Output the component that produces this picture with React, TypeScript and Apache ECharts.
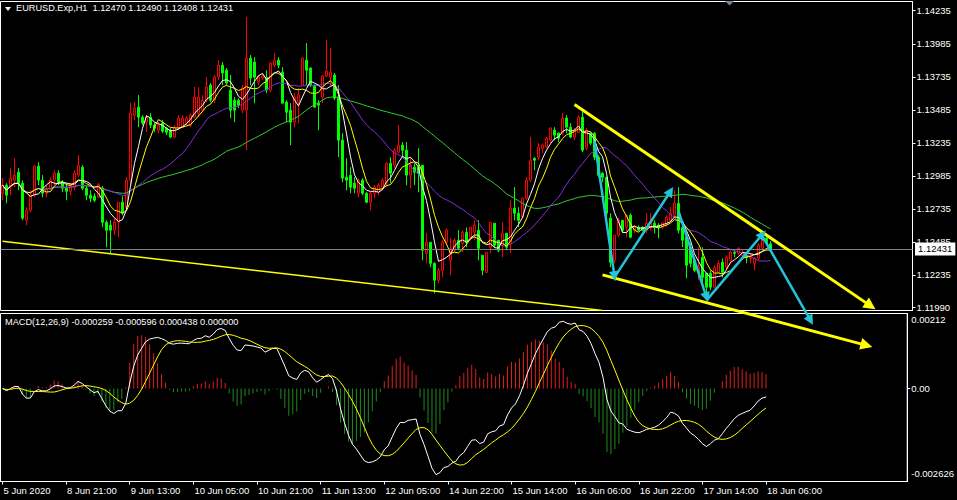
import React, { useEffect, useRef } from "react";
import * as echarts from "echarts";

const symbolTitle = "EURUSD.Exp,H1  1.12470 1.12490 1.12408 1.12431";
const macdTitle = "MACD(12,26,9) -0.000259 -0.000596 0.000438 0.000000";

const opens = [
  1.12853,1.12914,1.12899,1.12952,1.13012,1.12929,1.12648,1.12724,1.12838,1.13058,
  1.12952,1.12853,1.12883,1.12952,1.13005,1.12936,1.12891,1.12868,1.12899,1.12990,
  1.13050,1.12891,1.12838,1.12830,1.12823,1.12891,1.12633,1.12611,1.12573,1.12633,
  1.12785,1.12747,1.12952,1.13444,1.13505,1.13429,1.13391,1.13429,1.13369,1.13331,
  1.13384,1.13346,1.13331,1.13278,1.13346,1.13353,1.13384,1.13369,1.13429,1.13459,
  1.13482,1.13558,1.13672,1.13558,1.13732,1.13823,1.13785,1.13634,1.13558,1.13558,
  1.13482,1.13482,1.13876,1.13846,1.13694,1.13725,1.13732,1.13634,1.13823,1.13861,
  1.13770,1.13543,1.13482,1.13391,1.13543,1.13672,1.13861,1.13801,1.13672,1.13535,
  1.13581,1.13740,1.13732,1.13748,1.13581,1.13255,1.12974,1.12990,1.12929,1.12853,
  1.12952,1.12853,1.12785,1.12853,1.12861,1.12899,1.12929,1.13080,1.13065,1.13164,
  1.13217,1.13179,1.12990,1.13050,1.13050,1.13065,1.12398,1.12482,1.12322,1.12194,
  1.12269,1.12482,1.12345,1.12421,1.12497,1.12474,1.12557,1.12520,1.12557,1.12573,
  1.12383,1.12254,1.12444,1.12626,1.12497,1.12459,1.12550,1.12474,1.12739,1.12701,
  1.12671,1.12815,1.12952,1.13118,1.13126,1.13194,1.13202,1.13255,1.13331,1.13308,
  1.13308,1.13422,1.13353,1.13278,1.13315,1.13429,1.13194,1.13308,1.13308,1.13126,
  1.13005,1.12974,1.12664,1.12345,1.12535,1.12648,1.12595,1.12686,1.12573,1.12595,
  1.12595,1.12573,1.12595,1.12626,1.12611,1.12595,1.12626,1.12648,1.12686,1.12777,
  1.12595,1.12520,1.12444,1.12345,1.12247,1.12368,1.12247,1.12247,1.12141,1.12254,
  1.12330,1.12292,1.12345,1.12406,1.12398,1.12383,1.12383,1.12360,1.12322,1.12360,
  1.12436,1.12512,1.12470,
];

const highs = [
  1.12967,1.12929,1.13043,1.13118,1.13043,1.12952,1.12747,1.12876,1.13065,1.13088,
  1.12990,1.12914,1.12974,1.13027,1.13027,1.12952,1.12929,1.12936,1.13027,1.13141,
  1.13065,1.12914,1.12876,1.12853,1.12929,1.12906,1.12648,1.12648,1.12664,1.12785,
  1.12830,1.12974,1.13535,1.13543,1.13596,1.13444,1.13444,1.13459,1.13391,1.13391,
  1.13406,1.13353,1.13346,1.13369,1.13444,1.13444,1.13437,1.13459,1.13657,1.13657,
  1.13596,1.13732,1.13687,1.13748,1.13861,1.13846,1.13801,1.13748,1.13581,1.13573,
  1.13672,1.14187,1.13899,1.13884,1.13748,1.13755,1.13785,1.13846,1.13914,1.13884,
  1.13808,1.13558,1.13535,1.13611,1.13649,1.13884,1.13990,1.13808,1.13672,1.13558,
  1.13748,1.14013,1.13952,1.13763,1.13672,1.13308,1.13118,1.13050,1.12974,1.12967,
  1.12967,1.12861,1.12861,1.12914,1.12929,1.12967,1.13088,1.13126,1.13194,1.13369,
  1.13240,1.13240,1.13126,1.13080,1.13194,1.13065,1.12550,1.12482,1.12330,1.12285,
  1.12497,1.12588,1.12512,1.12512,1.12573,1.12573,1.12595,1.12595,1.12648,1.12648,
  1.12383,1.12406,1.12633,1.12626,1.12497,1.12633,1.12550,1.12800,1.12899,1.12747,
  1.12823,1.12974,1.13278,1.13126,1.13232,1.13232,1.13278,1.13353,1.13353,1.13315,
  1.13459,1.13444,1.13384,1.13346,1.13444,1.13497,1.13346,1.13315,1.13315,1.13141,
  1.13012,1.12974,1.12701,1.12535,1.12664,1.12648,1.12686,1.12701,1.12611,1.12611,
  1.12603,1.12701,1.12701,1.12648,1.12626,1.12633,1.12686,1.12747,1.12876,1.12899,
  1.12626,1.12535,1.12474,1.12368,1.12444,1.12444,1.12247,1.12269,1.12307,1.12345,
  1.12360,1.12383,1.12421,1.12421,1.12444,1.12421,1.12398,1.12398,1.12368,1.12474,
  1.12535,1.12535,1.12490,
];

const lows = [
  1.12800,1.12777,1.12838,1.12899,1.12876,1.12648,1.12611,1.12709,1.12823,1.12914,
  1.12823,1.12823,1.12876,1.12914,1.12914,1.12861,1.12800,1.12838,1.12876,1.12974,
  1.12876,1.12800,1.12785,1.12785,1.12815,1.12595,1.12444,1.12398,1.12535,1.12520,
  1.12686,1.12724,1.12914,1.13406,1.13353,1.13369,1.13315,1.13346,1.13315,1.13308,
  1.13308,1.13293,1.13270,1.13270,1.13331,1.13346,1.13369,1.13353,1.13422,1.13429,
  1.13467,1.13543,1.13543,1.13535,1.13710,1.13672,1.13672,1.13422,1.13391,1.13497,
  1.13459,1.13179,1.13672,1.13535,1.13672,1.13710,1.13611,1.13619,1.13808,1.13801,
  1.13535,1.13391,1.13217,1.13353,1.13384,1.13672,1.13672,1.13657,1.13505,1.13331,
  1.13535,1.13732,1.13657,1.13558,1.13126,1.12936,1.12876,1.12853,1.12853,1.12823,
  1.12838,1.12777,1.12724,1.12815,1.12838,1.12876,1.12899,1.12929,1.13043,1.13156,
  1.13126,1.12914,1.12891,1.12914,1.12861,1.12345,1.12322,1.12292,1.12095,1.12171,
  1.12216,1.12474,1.12232,1.12406,1.12421,1.12406,1.12444,1.12497,1.12497,1.12345,
  1.12232,1.12247,1.12398,1.12444,1.12406,1.12368,1.12421,1.12398,1.12648,1.12595,
  1.12664,1.12800,1.12936,1.13027,1.13103,1.13156,1.13194,1.13232,1.13255,1.13240,
  1.13293,1.13308,1.13270,1.13255,1.13308,1.13164,1.13179,1.13217,1.13103,1.12974,
  1.12936,1.12648,1.12292,1.12322,1.12520,1.12550,1.12520,1.12512,1.12550,1.12565,
  1.12565,1.12550,1.12573,1.12550,1.12512,1.12580,1.12595,1.12633,1.12671,1.12550,
  1.12444,1.12209,1.12292,1.12254,1.12194,1.12141,1.12065,1.12118,1.12133,1.12247,
  1.12216,1.12269,1.12322,1.12368,1.12383,1.12368,1.12322,1.12322,1.12269,1.12345,
  1.12421,1.12459,1.12408,
];

const closes = [
  1.12914,1.12838,1.12967,1.12990,1.12929,1.12664,1.12724,1.12838,1.13058,1.12952,
  1.12853,1.12883,1.12952,1.13005,1.12936,1.12891,1.12868,1.12914,1.13005,1.13065,
  1.12891,1.12838,1.12815,1.12800,1.12921,1.12633,1.12573,1.12573,1.12633,1.12785,
  1.12701,1.12952,1.13459,1.13497,1.13429,1.13384,1.13429,1.13369,1.13346,1.13369,
  1.13323,1.13315,1.13278,1.13353,1.13422,1.13422,1.13422,1.13444,1.13581,1.13581,
  1.13558,1.13657,1.13558,1.13732,1.13823,1.13763,1.13687,1.13482,1.13482,1.13520,
  1.13649,1.13876,1.13725,1.13732,1.13732,1.13740,1.13634,1.13838,1.13861,1.13823,
  1.13535,1.13467,1.13391,1.13581,1.13596,1.13876,1.13785,1.13672,1.13505,1.13520,
  1.13740,1.13778,1.13770,1.13573,1.13255,1.12967,1.12952,1.12899,1.12891,1.12952,
  1.12853,1.12785,1.12853,1.12899,1.12914,1.12952,1.13080,1.13005,1.13179,1.13217,
  1.13179,1.12990,1.13065,1.13012,1.13005,1.12421,1.12482,1.12322,1.12194,1.12269,
  1.12482,1.12573,1.12436,1.12497,1.12436,1.12557,1.12482,1.12595,1.12611,1.12436,
  1.12269,1.12406,1.12633,1.12459,1.12421,1.12550,1.12444,1.12739,1.12701,1.12648,
  1.12815,1.12952,1.13103,1.13103,1.13202,1.13217,1.13270,1.13346,1.13293,1.13270,
  1.13422,1.13353,1.13278,1.13331,1.13429,1.13179,1.13331,1.13232,1.13126,1.12990,
  1.12974,1.12701,1.12330,1.12535,1.12648,1.12573,1.12686,1.12520,1.12595,1.12573,
  1.12573,1.12626,1.12633,1.12595,1.12595,1.12626,1.12671,1.12701,1.12777,1.12573,
  1.12497,1.12307,1.12322,1.12269,1.12292,1.12216,1.12141,1.12141,1.12292,1.12322,
  1.12254,1.12368,1.12406,1.12398,1.12436,1.12406,1.12368,1.12368,1.12360,1.12459,
  1.12512,1.12474,1.12431,
];

const timeLabels = [
  "5 Jun 2020", "8 Jun 21:00", "9 Jun 13:00", "10 Jun 05:00", "10 Jun 21:00",
  "11 Jun 13:00", "12 Jun 05:00", "14 Jun 22:00", "15 Jun 14:00", "16 Jun 06:00",
  "16 Jun 22:00", "17 Jun 14:00", "18 Jun 06:00",
];
const barsPerLabel = 16;
const totalSlots = 228;

const priceTicks = [1.14235, 1.13985, 1.13735, 1.13485, 1.13235, 1.12985, 1.12735, 1.12485, 1.12235, 1.1199];
const priceMin = 1.11965;
const priceMax = 1.14305;
const bidPrice = 1.12431;

const macdMin = -0.002626;
const macdMax = 0.00212;
const macdTickTexts = ["0.00212", "0.00", "-0.002626"];
const macdTickSpots = [0.00195, 0, -0.0024];
// last values shown in the MACD legend: main, signal, histogram
const macdLegendMain = -0.000259;
const macdLegendSignal = -0.000596;
const macdLegendHist = 0.000438;

const maWhitePeriod = 5;
const maYellowPeriod = 8;
const maPurplePeriod = 21;
const maGreenPeriod = 50;
const macdFast = 12;
const macdSlow = 26;
const macdSignal = 9;

// annotations: [fromBar, fromPrice, toBar, toPrice]
const thinTrend = [[0, 1.12489, 150, 1.11965]];
const yellowArrows = [
  [143, 1.13525, 217, 1.12],
  [150, 1.12235, 216, 1.11701],
];
const cyanArrows = [
  [148, 1.13247, 153, 1.12224],
  [153, 1.12216, 167, 1.12868],
  [169, 1.12717, 176, 1.12065],
  [176, 1.12042, 190, 1.12542],
  [190, 1.12527, 202, 1.1189],
];

const FONT = '"Liberation Sans", Arial, sans-serif';

function sma(src: number[], n: number): number[] {
  return src.map((_, i) => {
    const s = Math.max(0, i - n + 1);
    let sum = 0;
    for (let j = s; j <= i; j++) sum += src[j];
    return sum / (i - s + 1);
  });
}

function ema(src: number[], n: number): number[] {
  const k = 2 / (n + 1);
  const out: number[] = [];
  let prev = src[0];
  src.forEach((v, i) => {
    prev = i === 0 ? v : v * k + prev * (1 - k);
    out.push(prev);
  });
  return out;
}

export default function App() {
  const ref = useRef<HTMLDivElement>(null);

  useEffect(() => {
    if (!ref.current) return;
    const chart = echarts.init(ref.current, null, { renderer: "svg" });

    const slots = Array.from({ length: totalSlots }, (_, i) => String(i));
    const candles = opens.map((o, i) => [o, closes[i], lows[i], highs[i]]);
    const fastE = ema(closes, macdFast);
    const slowE = ema(closes, macdSlow);
    const macdMain = fastE.map((v, i) => v - slowE[i]);
    const macdSig = sma(macdMain, macdSignal);
    const histScale = macdLegendHist / (macdLegendMain - macdLegendSignal);
    const hist = macdMain.map((v, i) => {
      const d = (v - macdSig[i]) * histScale;
      return { value: d, itemStyle: { color: d >= 0 ? "#e01e1e" : "#1f8a1f" } };
    });

    const toLines = (arr: number[][]) =>
      arr.map((a) => ({ coords: [[a[0], a[1]], [a[2], a[3]]] }));

    const showIdx = (idx: number) =>
      idx % barsPerLabel === 0 && idx / barsPerLabel < timeLabels.length;

    const maLine = (data: number[], color: string, extra: any = {}) => ({
      type: "line",
      xAxisIndex: 0,
      yAxisIndex: 0,
      data,
      symbol: "none",
      showSymbol: false,
      lineStyle: { color, width: 1 },
      z: 3,
      ...extra,
    });

    const option: any = {
      animation: false,
      backgroundColor: "#000000",
      textStyle: { fontFamily: FONT },
      grid: [
        { left: 0.5, top: 1.5, width: 912, height: 309, show: true, borderColor: "#ffffff", borderWidth: 1, backgroundColor: "#000" },
        { left: 0.5, top: 313.5, width: 912, height: 168, show: true, borderColor: "#ffffff", borderWidth: 1, backgroundColor: "#000" },
      ],
      xAxis: [
        {
          type: "category", gridIndex: 0, data: slots, boundaryGap: true,
          axisLine: { show: false, onZero: false }, axisTick: { show: false }, axisLabel: { show: false }, splitLine: { show: false },
        },
        {
          type: "category", gridIndex: 1, data: slots, boundaryGap: true, position: "bottom",
          axisLine: { show: true, onZero: false, lineStyle: { color: "#ffffff" } },
          axisTick: { show: true, alignWithLabel: true, length: 3, interval: (idx: number) => showIdx(idx), lineStyle: { color: "#ffffff" } },
          axisLabel: {
            show: true, interval: (idx: number) => showIdx(idx), align: "left", margin: 4,
            color: "#ffffff", fontSize: 9.5, fontFamily: FONT, padding: [0, 0, 0, 1],
            formatter: (_v: string, idx: number) => (showIdx(idx) ? timeLabels[idx / barsPerLabel] : ""),
          },
          splitLine: { show: false },
        },
      ],
      yAxis: [
        {
          type: "value", gridIndex: 0, position: "right", min: priceMin, max: priceMax,
          axisLine: { show: true, lineStyle: { color: "#ffffff" } },
          axisTick: { show: true, length: 3, customValues: priceTicks, lineStyle: { color: "#ffffff" } },
          axisLabel: {
            customValues: priceTicks, margin: 4, color: "#ffffff", fontSize: 9.5, fontFamily: FONT,
            formatter: (v: number) => v.toFixed(5),
          },
          splitLine: { show: false },
        },
        {
          type: "value", gridIndex: 1, position: "right", min: macdMin, max: macdMax,
          axisLine: { show: true, lineStyle: { color: "#ffffff" } },
          axisTick: { show: true, length: 3, customValues: [0], lineStyle: { color: "#ffffff" } },
          axisLabel: {
            customValues: macdTickSpots, margin: 4, color: "#ffffff", fontSize: 9.5, fontFamily: FONT,
            formatter: (v: number) => {
              let k = 0;
              macdTickSpots.forEach((s, i) => { if (Math.abs(s - v) < Math.abs(macdTickSpots[k] - v)) k = i; });
              return macdTickTexts[k];
            },
          },
          splitLine: { show: false },
        },
      ],
      series: [
        {
          type: "candlestick",
          xAxisIndex: 0,
          yAxisIndex: 0,
          data: candles,
          barWidth: 2,
          itemStyle: {
            color: "#000000",
            color0: "#00ff00",
            borderColor: "#ff0000",
            borderColor0: "#00ff00",
            borderWidth: 1,
          },
          z: 2,
        },
        maLine(sma(closes, maGreenPeriod), "#32cd32", {
          markLine: {
            silent: true,
            symbol: ["none", "none"],
            animation: false,
            precision: 5,
            lineStyle: { color: "#808080", width: 1, type: "solid" },
            label: {
              show: true, position: "end", distance: 2.5,
              formatter: () => bidPrice.toFixed(5),
              backgroundColor: "#ffffff", color: "#000000",
              fontSize: 9.5, fontFamily: FONT, padding: [2, 3, 1, 3],
            },
            data: [{ yAxis: bidPrice }],
            z: 8,
          },
        }),
        maLine(sma(closes, maPurplePeriod), "#8a2be2"),
        maLine(sma(closes, maYellowPeriod), "#ffff00"),
        maLine(sma(closes, maWhitePeriod), "#ffffff"),
        {
          type: "lines",
          coordinateSystem: "cartesian2d",
          xAxisIndex: 0,
          yAxisIndex: 0,
          clip: true,
          symbol: ["none", "none"],
          lineStyle: { color: "#ffff00", width: 1.5, opacity: 1 },
          data: toLines(thinTrend),
          z: 6,
        },
        {
          type: "lines",
          coordinateSystem: "cartesian2d",
          xAxisIndex: 0,
          yAxisIndex: 0,
          clip: false,
          symbol: ["none", "triangle"],
          symbolSize: [0, 12],
          lineStyle: { color: "#ffff00", width: 3, opacity: 1 },
          itemStyle: { color: "#ffff00" },
          data: toLines(yellowArrows),
          z: 10,
        },
        {
          type: "lines",
          coordinateSystem: "cartesian2d",
          xAxisIndex: 0,
          yAxisIndex: 0,
          clip: false,
          symbol: ["none", "triangle"],
          symbolSize: [0, 10],
          lineStyle: { color: "#22c4d8", width: 2.5, opacity: 1 },
          itemStyle: { color: "#22c4d8" },
          data: toLines(cyanArrows),
          z: 10,
        },
        {
          type: "bar",
          xAxisIndex: 1,
          yAxisIndex: 1,
          data: hist,
          barWidth: 1,
          z: 2,
        },
        {
          type: "line",
          xAxisIndex: 1,
          yAxisIndex: 1,
          data: macdMain,
          symbol: "none",
          showSymbol: false,
          lineStyle: { color: "#ffffff", width: 1 },
          z: 3,
        },
        {
          type: "line",
          xAxisIndex: 1,
          yAxisIndex: 1,
          data: macdSig,
          symbol: "none",
          showSymbol: false,
          lineStyle: { color: "#ffff00", width: 1 },
          z: 3,
        },
      ],
      graphic: [
        { type: "polygon", shape: { points: [[5, 7], [11, 7], [8, 11]] }, style: { fill: "#ffffff" }, z: 20 },
        { type: "text", left: 16, top: 3.5, style: { text: symbolTitle, fill: "#ffffff", fontSize: 9.2, fontFamily: FONT }, z: 20 },
        { type: "text", left: 5, top: 317, style: { text: macdTitle, fill: "#ffffff", fontSize: 9.2, fontFamily: FONT }, z: 20 },
        { type: "polygon", shape: { points: [[725, 1], [734, 1], [729.5, 5.5]] }, style: { fill: "#778899" }, z: 20 },
      ],
    };

    chart.setOption(option);
    return () => chart.dispose();
  }, []);

  return (
    <div
      ref={ref}
      style={{ position: "fixed", left: 0, top: 0, width: 957, height: 500, background: "#000" }}
    />
  );
}
